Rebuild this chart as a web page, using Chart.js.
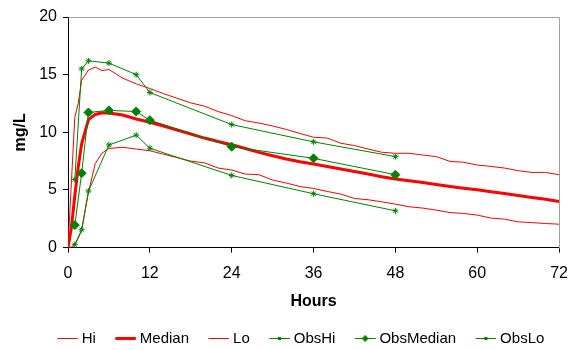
<!DOCTYPE html>
<html>
<head>
<meta charset="utf-8">
<script src="https://cdn.jsdelivr.net/npm/chart.js@4.4.1/dist/chart.umd.min.js"></script>
<style>
  body { margin: 0; background: #fff; }
  #wrap { width: 579px; height: 350px; }
</style>
</head>
<body>
<div id="wrap"><canvas id="concChart" width="579" height="350"></canvas></div>
<script>
// simulated profiles (hours / mg/L)
let simHours = [0, 0.5, 1, 1.5, 2, 3, 4, 5, 6, 8, 10, 12, 14, 16, 18, 20, 22, 24, 26, 28, 30,
  32, 34, 36, 38, 40, 42, 44, 46, 48, 50, 52, 54, 56, 58, 60, 62, 64, 66, 68, 70, 72];
let hiValues = [0, 5.7, 11.3, 12.5, 14.5, 15.4, 15.65, 15.35, 15.45, 14.7, 14.2, 13.8, 13.35, 12.95,
  12.55, 12.27, 11.8, 11.45, 11.0, 10.8, 10.55, 10.25, 9.9, 9.57, 9.5, 9.05, 8.85, 8.55, 8.27, 8.18,
  8.18, 8.03, 7.89, 7.48, 7.4, 7.16, 7.04, 6.9, 6.67, 6.52, 6.52, 6.32];
let medianValues = [0, 1.75, 4.5, 7.0, 9.0, 11.1, 11.55, 11.7, 11.68, 11.5, 11.16, 10.87, 10.55, 10.2,
  9.85, 9.5, 9.2, 8.93, 8.6, 8.26, 7.97, 7.68, 7.45, 7.25, 7.03, 6.82, 6.6, 6.38, 6.15, 5.95,
  5.8, 5.65, 5.47, 5.3, 5.15, 5.02, 4.85, 4.7, 4.52, 4.35, 4.2, 4.0];
let loValues = [0, 0.05, 0.3, 0.8, 1.5, 4.8, 7.3, 8.2, 8.6, 8.7, 8.55, 8.4, 8.1, 7.8,
  7.5, 7.35, 6.9, 6.73, 6.38, 6.32, 5.86, 5.6, 5.3, 5.13, 4.87, 4.64, 4.26, 4.15, 3.97, 3.77,
  3.54, 3.43, 3.25, 3.04, 2.96, 2.82, 2.56, 2.47, 2.23, 2.17, 2.09, 2.03];

// observed values
let obsHours = [1, 2, 3, 6, 10, 12, 24, 36, 48];
let obsHi = [5.9, 15.5, 16.2, 16.0, 15.0, 13.45, 10.67, 9.17, 7.89];
let obsMedian = [1.95, 6.45, 11.72, 11.9, 11.8, 11.05, 8.75, 7.74, 6.32];
let obsLo = [0.25, 1.55, 4.9, 8.9, 9.75, 8.62, 6.26, 4.67, 3.19];

let xTicks = [0, 12, 24, 36, 48, 60, 72];
let yTicks = [0, 5, 10, 15, 20];

let red = '#ff0000';
let green = '#008000';

function toPoints(xs, ys) {
  return xs.map((x, i) => ({ x: x, y: ys[i] }));
}

// line+marker swatch for the legend; the blank left part spaces the items out
function swatch(color, width, marker) {
  let c = document.createElement('canvas');
  c.width = 44;
  c.height = 9;
  let g = c.getContext('2d');
  g.strokeStyle = color;
  g.fillStyle = color;
  g.lineWidth = width;
  g.beginPath();
  g.moveTo(23.25, 4.5);
  g.lineTo(43.75, 4.5);
  g.stroke();
  let mx = 33.5;
  if (marker === 'square') {
    g.fillRect(mx - 1.5, 3, 3, 3);
  } else if (marker === 'diamond') {
    g.beginPath();
    g.moveTo(mx, 1);
    g.lineTo(mx + 3.5, 4.5);
    g.lineTo(mx, 8);
    g.lineTo(mx - 3.5, 4.5);
    g.closePath();
    g.fill();
  }
  return c;
}

let swatches = [
  swatch(red, 1, null),
  swatch(red, 3, null),
  swatch(red, 1, null),
  swatch(green, 1, 'square'),
  swatch(green, 1, 'diamond'),
  swatch(green, 1, 'square')
];

// gray frame on the top and right of the plot
let frame = {
  id: 'frame',
  beforeDatasetsDraw(chart) {
    let a = chart.chartArea;
    let c = chart.ctx;
    c.save();
    c.strokeStyle = '#a0a0a0';
    c.lineWidth = 1;
    c.beginPath();
    c.moveTo(Math.round(a.left) + 0.5, Math.round(a.top) + 0.5);
    c.lineTo(Math.round(a.right) + 0.5, Math.round(a.top) + 0.5);
    c.lineTo(Math.round(a.right) + 0.5, Math.round(a.bottom) + 0.5);
    c.stroke();
    c.restore();
  }
};

Chart.defaults.font.family = "'Liberation Sans', Arial, sans-serif";
Chart.defaults.font.size = 16;
Chart.defaults.color = '#000';

let ctx = document.getElementById('concChart').getContext('2d');
let concChart = new Chart(ctx, {
  type: 'line',
  data: {
    datasets: [
      { label: 'Hi', data: toPoints(simHours, hiValues), borderColor: red, borderWidth: 1, pointRadius: 0, order: 1 },
      { label: 'Median', data: toPoints(simHours, medianValues), borderColor: red, borderWidth: 3, pointRadius: 0, order: 1 },
      { label: 'Lo', data: toPoints(simHours, loValues), borderColor: red, borderWidth: 1, pointRadius: 0, order: 1 },
      { label: 'ObsHi', data: toPoints(obsHours, obsHi), borderColor: green, backgroundColor: green, borderWidth: 1,
        pointStyle: 'star', pointRadius: 3, pointBorderWidth: 1, order: 0 },
      { label: 'ObsMedian', data: toPoints(obsHours, obsMedian), borderColor: green, backgroundColor: green, borderWidth: 1,
        pointStyle: 'rectRot', pointRadius: 4.5, pointBorderWidth: 1, order: 0 },
      { label: 'ObsLo', data: toPoints(obsHours, obsLo), borderColor: green, backgroundColor: green, borderWidth: 1,
        pointStyle: 'star', pointRadius: 3, pointBorderWidth: 1, order: 0 }
    ]
  },
  options: {
    responsive: false,
    animation: false,
    layout: { padding: { top: 17, right: 8, left: 11, bottom: -6 } },
    scales: {
      x: {
        type: 'linear',
        min: 0,
        max: 72,
        afterBuildTicks: (s) => { s.ticks = xTicks.map(v => ({ value: v })); },
        ticks: { padding: 11 },
        grid: { drawOnChartArea: false, tickLength: 5, color: '#000' },
        border: { color: '#000', width: 1 },
        title: { display: true, text: 'Hours', font: { weight: 'bold', size: 16 }, padding: { top: -2, bottom: 20 } }
      },
      y: {
        min: 0,
        max: 20,
        afterBuildTicks: (s) => { s.ticks = yTicks.map(v => ({ value: v })); },
        afterFit: (s) => { s.width = 57; },
        ticks: { padding: 6 },
        grid: { drawOnChartArea: false, tickLength: 5, color: '#000' },
        border: { color: '#000', width: 1 },
        title: { display: true, text: 'mg/L', font: { weight: 'bold', size: 16 }, padding: 0 }
      }
    },
    plugins: {
      tooltip: { enabled: false },
      legend: {
        position: 'bottom',
        labels: {
          font: { size: 15 },
          usePointStyle: true,
          pointStyleWidth: 36.5,
          padding: 0,
          generateLabels: (chart) => chart.data.datasets.map((ds, i) => ({
            text: ds.label,
            pointStyle: swatches[i],
            fillStyle: ds.borderColor,
            strokeStyle: ds.borderColor,
            lineWidth: 0,
            hidden: false,
            datasetIndex: i
          }))
        }
      }
    }
  },
  plugins: [frame]
});
</script>
</body>
</html>
